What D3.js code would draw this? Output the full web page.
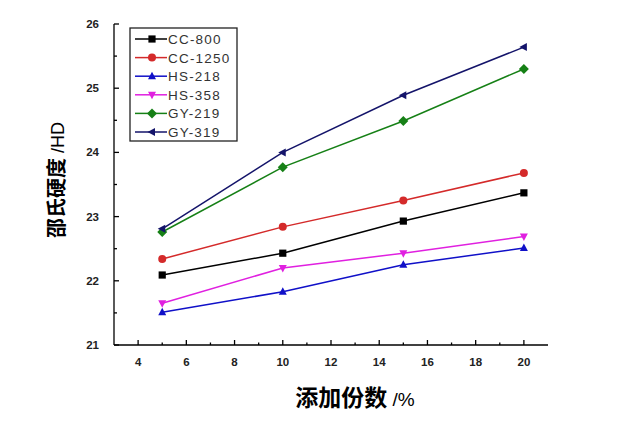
<!DOCTYPE html>
<html><head><meta charset="utf-8">
<script src="https://cdn.jsdelivr.net/npm/d3@7"></script>
<style>body{margin:0;background:#fff;}svg{display:block;}</style>
</head><body>
<svg id="c" width="640" height="424"></svg>
<script>
const xValues = [5, 10, 15, 20];
const seriesNames = ["CC-800","CC-1250","HS-218","HS-358","GY-219","GY-319"];
const cc800  = [22.09, 22.43, 22.93, 23.37];
const cc1250 = [22.34, 22.84, 23.25, 23.68];
const hs218  = [21.51, 21.83, 22.25, 22.51];
const hs358  = [21.65, 22.20, 22.43, 22.69];
const gy219  = [22.76, 23.77, 24.49, 25.30];
const gy319  = [22.81, 24.00, 24.89, 25.64];
const xTicks = [4,6,8,10,12,14,16,18,20];
const yTicks = [21,22,23,24,25,26];
const colors = ["#000000","#d42a2a","#1010c8","#e020e0","#168016","#14146a"];
const symbols = ["square","circle","up","down","diamond","left"];
const allSeries = [cc800, cc1250, hs218, hs358, gy219, gy319];

const svg = d3.select("#c");
const x = d3.scaleLinear().domain([3,21]).range([114,548]);
const y = d3.scaleLinear().domain([21,26]).range([345,24]);

function marker(g, type, cx, cy, color){
  const s = 4;
  let pts = null;
  if (type==="up") pts=[[cx,cy-s-0.5],[cx-s,cy+s-1],[cx+s,cy+s-1]];
  else if (type==="down") pts=[[cx,cy+s+0.5],[cx-s,cy-s+1],[cx+s,cy-s+1]];
  else if (type==="left") pts=[[cx-s-0.5,cy],[cx+s-1,cy-s],[cx+s-1,cy+s]];
  else if (type==="diamond") pts=[[cx,cy-5],[cx+5,cy],[cx,cy+5],[cx-5,cy]];
  else if (type==="square") pts=[[cx-3.6,cy-3.6],[cx+3.6,cy-3.6],[cx+3.6,cy+3.6],[cx-3.6,cy+3.6]];
  if (pts) g.append("polygon").attr("points",pts.map(p=>p.join(",")).join(" ")).attr("fill",color);
  else g.append("circle").attr("cx",cx).attr("cy",cy).attr("r",4).attr("fill",color);
}

// axes lines
const ax = svg.append("g").attr("stroke","#000").attr("stroke-width",1.3);
ax.append("line").attr("x1",x(3)).attr("x2",x(21)).attr("y1",y(21)).attr("y2",y(21));
ax.append("line").attr("x1",x(3)).attr("x2",x(3)).attr("y1",y(21)).attr("y2",y(26));
for (let v=4; v<=20; v++){
  const major = v%2===0;
  ax.append("line").attr("x1",x(v)).attr("x2",x(v)).attr("y1",y(21)).attr("y2",y(21)-(major?5:2.5));
}
for (let v=21; v<=26; v+=0.5){
  const major = Number.isInteger(v);
  ax.append("line").attr("x1",x(3)).attr("x2",x(3)+(major?5:3)).attr("y1",y(v)).attr("y2",y(v));
}
const fontTick = "'Liberation Sans', Arial, sans-serif";
svg.append("g").selectAll("text").data(xTicks).join("text")
  .attr("x",d=>x(d)).attr("y",366).attr("text-anchor","middle")
  .attr("font-family",fontTick).attr("font-size",11.5).attr("font-weight","bold").attr("fill","#222")
  .text(d=>d);
svg.append("g").selectAll("text").data(yTicks).join("text")
  .attr("x",99).attr("y",d=>y(d)+4).attr("text-anchor","end")
  .attr("font-family",fontTick).attr("font-size",11.5).attr("font-weight","bold").attr("fill","#222")
  .text(d=>d);

// titles
const xt = svg.append("text").attr("x",355).attr("y",406).attr("text-anchor","middle")
  .attr("font-family","'Noto Sans CJK SC', sans-serif").attr("font-size",23).attr("fill","#000");
xt.append("tspan").attr("font-weight","bold").text("添加份数");
xt.append("tspan").attr("font-family",fontTick).attr("font-size",19).text(" /%");
const yt = svg.append("text").attr("transform","translate(64,180) rotate(-90)").attr("text-anchor","middle")
  .attr("font-family","'Noto Sans CJK SC', sans-serif").attr("font-size",20).attr("fill","#000");
yt.append("tspan").attr("font-weight","bold").text("邵氏硬度");
yt.append("tspan").attr("font-family",fontTick).attr("font-size",18).text(" /HD");

// lines
const line = d3.line().x((d,i)=>x(xValues[i])).y(d=>y(d));
allSeries.forEach((s,k)=>{
  svg.append("path").attr("d",line(s)).attr("fill","none").attr("stroke",colors[k]).attr("stroke-width",1.5);
  const g = svg.append("g");
  s.forEach((v,i)=>marker(g,symbols[k],x(xValues[i]),y(v),colors[k]));
});

// legend
const lg = svg.append("g");
lg.append("rect").attr("x",130).attr("y",28).attr("width",107).attr("height",113)
  .attr("fill","#fff").attr("stroke","#222").attr("stroke-width",1.3);
seriesNames.forEach((n,k)=>{
  const ry = 39 + k*18.6;
  lg.append("line").attr("x1",135).attr("x2",167).attr("y1",ry).attr("y2",ry).attr("stroke",colors[k]).attr("stroke-width",1.5);
  marker(lg,symbols[k],152,ry,colors[k]);
  lg.append("text").attr("x",168).attr("y",ry+5).attr("font-family",fontTick).attr("font-size",13.5)
    .attr("letter-spacing",1.2).attr("fill","#333").text(n);
});
</script>
</body></html>
